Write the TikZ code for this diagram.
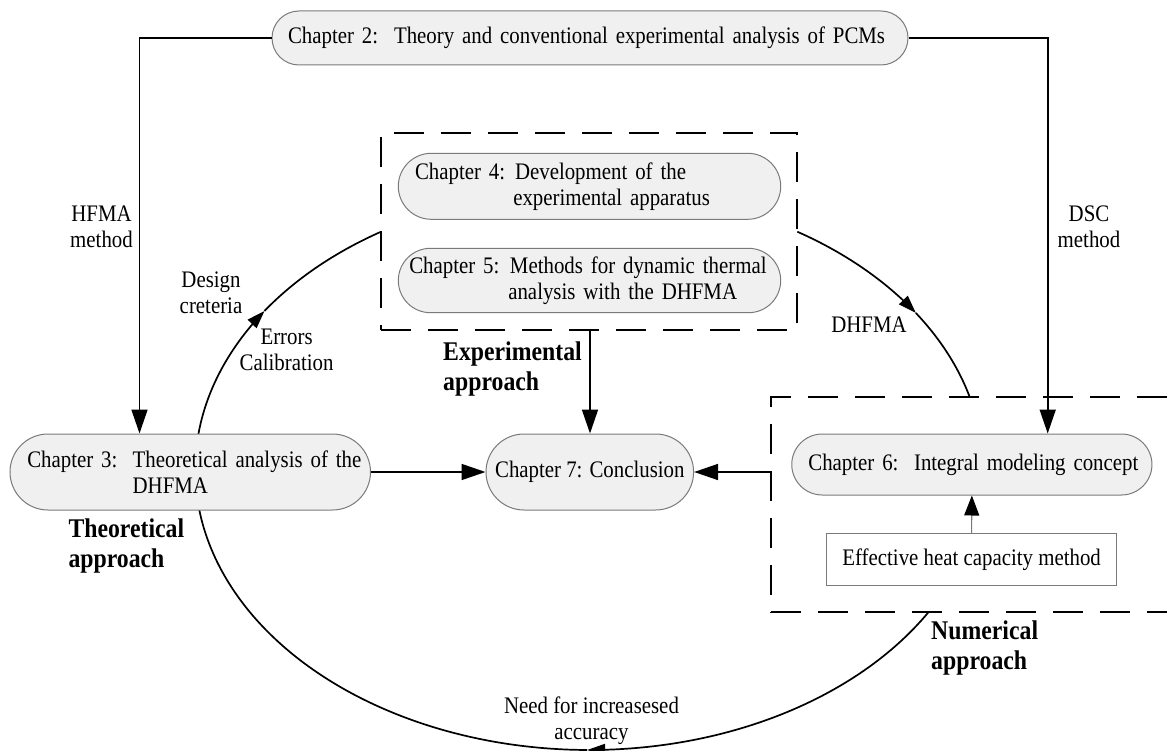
\documentclass[tikz,border=0pt]{standalone}
\usepackage{fontspec}
\setmainfont{Liberation Serif}[FakeStretch=0.88]
\usetikzlibrary{arrows.meta}
\definecolor{chapfill}{HTML}{F0F0F0}
\definecolor{chapborder}{HTML}{7A7A7A}
\begin{document}
\begin{tikzpicture}[x=1pt,y=-1pt,
  every node/.style={font=\fontsize{23.7}{26}\selectfont},
  chap/.style={draw=chapborder, fill=chapfill, line width=1pt, rectangle, inner ysep=0pt, align=left},
  lbl/.style={align=center, inner sep=0pt},
  blbl/.style={align=left, inner sep=0pt, font=\fontsize{27}{30}\selectfont\bfseries},
  dbox/.style={draw=black, line width=2pt, dash pattern=on 30pt off 17pt, inner sep=0pt},
  arr/.style={-{Triangle[length=24pt,width=16pt]}, line width=1.7pt},
  arcline/.style={line width=1.7pt, line join=round},
  arctip/.style={arcline, -{Triangle[length=18pt,width=12pt]}},
]
\useasboundingbox (0,0) rectangle (1167,751);

% dashed group boxes
\node[dbox, minimum width=416.3pt, minimum height=197.3pt] (expbox) at (589.15,231.35) {};
\node[dbox, minimum width=419pt, minimum height=215.6pt] (numbox) at (980.5,504.5) {};

% arcs of the cycle (one ellipse, centre (589.2,469.7), radii 394 x 280.3)
\draw[arctip] plot[domain=172.68:145.5, samples=40] ({589.2+394*cos(\x)},{469.7-280.3*sin(\x)});
\draw[arcline] plot[domain=145.5:121.9, samples=40] ({589.2+394*cos(\x)},{469.7-280.3*sin(\x)});
\draw[arctip] plot[domain=58.11:34, samples=40] ({589.2+394*cos(\x)},{469.7-280.3*sin(\x)});
\draw[arcline] plot[domain=34:15.1, samples=40] ({589.2+394*cos(\x)},{469.7-280.3*sin(\x)});
\draw[arctip] plot[domain=-30.58:-90.3, samples=60] ({589.2+394*cos(\x)},{469.7-280.3*sin(\x)});
\draw[arcline] plot[domain=-90.3:-171.73, samples=90] ({589.2+394*cos(\x)},{469.7-280.3*sin(\x)});

% chapter nodes
\node[chap, rounded corners=27pt, minimum height=54pt, text width=604pt, inner xsep=16pt] (c2) at (590,38)
  {\mbox{\makebox[106pt][l]{Chapter 2:}Theory and conventional experimental analysis of PCMs}};
\node[chap, rounded corners=38pt, minimum height=76pt, text width=326pt, inner xsep=17.25pt] (c3) at (190.25,472)
  {\mbox{\makebox[105.4pt][l]{Chapter 3:}Theoretical analysis of the}\\\mbox{\hspace*{105.4pt}DHFMA}};
\node[chap, rounded corners=33pt, minimum height=66pt, text width=349pt, inner xsep=16.7pt] (c4) at (589.5,186.3)
  {\mbox{\makebox[100pt][l]{Chapter 4:}Development of the}\\\mbox{\hspace*{98.3pt}experimental apparatus}};
\node[chap, rounded corners=32.2pt, minimum height=64.4pt, text width=360.4pt, inner xsep=11pt] (c5) at (589.5,280.5)
  {\mbox{\makebox[100.7pt][l]{Chapter 5:}Methods for dynamic thermal}\\\mbox{\hspace*{99pt}analysis with the DHFMA}};
\node[chap, rounded corners=30.5pt, minimum height=61pt, text width=327pt, inner xsep=16.6pt] (c6) at (971.85,464.5)
  {\mbox{\makebox[105.7pt][l]{Chapter 6:}Integral modeling concept}};
\node[chap, rounded corners=38pt, minimum height=76pt, minimum width=207.6pt, inner xsep=2pt, align=center] (c7) at (589.8,472)
  {Chapter 7: Conclusion};
\node[draw=chapborder, fill=white, line width=1pt, minimum width=290pt, minimum height=52.4pt, inner sep=0pt] (eff) at (971.6,559.5)
  {Effective heat capacity method};

% straight connectors
\coordinate (hf) at (139.5,38);
\coordinate (ds) at (1047.7,38);
\coordinate (ex) at (590,330);
\draw[arr] (c2.west) -- (hf) -- (hf |- c3.north);
\draw[arr] (c2.east) -- (ds) -- (ds |- c6.north);
\draw[arr] (ex |- expbox.south) -- (ex |- c7.north);
\draw[arr] (c3.east) -- (c7.west);
\draw[arr] (numbox.west |- c7.east) -- (c7.east);
\draw[draw=chapborder, line width=1.1pt, -{Triangle[length=20pt,width=15pt,color=black]}] (eff.north) -- (c6.south);

% labels
\node[lbl] (lhfma) at (101.5,227) {HFMA\\method};
\node[lbl] (ldsc) at (1089,227) {DSC\\method};
\node[lbl] (ldes) at (211,292.5) {Design\\creteria};
\node[lbl] (lerr) at (286.6,350) {Errors\\Calibration};
\node[lbl] (ldh) at (869,325) {DHFMA};
\node[lbl] (lneed) at (591.5,720.5) {Need for increasesed\\accuracy};
\node[blbl, anchor=west] (lth) at (68.3,546) {Theoretical\\approach};
\node[blbl, anchor=west] (lex) at (443,369) {Experimental\\approach};
\node[blbl, anchor=west] (lnu) at (931,648.5) {Numerical\\approach};
\end{tikzpicture}
\end{document}
